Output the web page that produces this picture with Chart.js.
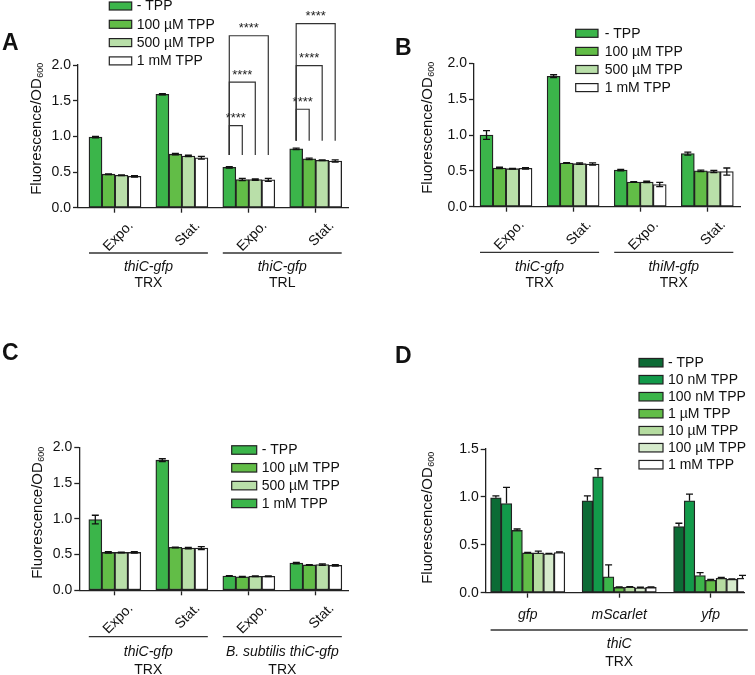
<!DOCTYPE html>
<html>
<head>
<meta charset="utf-8">
<script src="https://cdn.jsdelivr.net/npm/chart.js@4.4.0/dist/chart.umd.min.js"></script>
<style>
  body { margin: 0; background: #fff; }
  #fig { position: relative; width: 755px; height: 675px; }
  canvas { position: absolute; }
</style>
</head>
<body>
<div id="fig">
  <canvas id="panelA" width="378" height="340" style="left:0;top:0"></canvas>
  <canvas id="panelB" width="377" height="340" style="left:378px;top:0"></canvas>
  <canvas id="panelC" width="378" height="335" style="left:0;top:340px"></canvas>
  <canvas id="panelD" width="377" height="335" style="left:378px;top:340px"></canvas>
</div>
<script>
// ---- data ----
const tppLevels = ['- TPP', '100 µM TPP', '500 µM TPP', '1 mM TPP'];
const phases = ['Expo.', 'Stat.', 'Expo.', 'Stat.'];

// rows = TPP level, columns = phase
const valuesA = [
  [0.99, 1.59, 0.565, 0.825],
  [0.47, 0.75, 0.395, 0.685],
  [0.455, 0.725, 0.395, 0.665],
  [0.44, 0.70, 0.39, 0.655]
];
const errorsA = [
  [0.01, 0.01, 0.01, 0.01],
  [0.005, 0.01, 0.015, 0.01],
  [0.005, 0.01, 0.01, 0.005],
  [0.01, 0.02, 0.02, 0.015]
];
// [phase, from level, to level, bottom, top]
const bracketsA = [
  [2, 0, 1, 0.74, 1.15], [2, 0, 2, 0.74, 1.76], [2, 0, 3, 0.74, 2.41],
  [3, 0, 1, 0.94, 1.38], [3, 0, 2, 0.94, 1.99], [3, 0, 3, 0.94, 2.58]
];
const strainsA = [
  { cats: [0, 1], name: 'thiC-gfp', host: 'TRX' },
  { cats: [2, 3], name: 'thiC-gfp', host: 'TRL' }
];

const valuesB = [
  [1.00, 1.82, 0.51, 0.74],
  [0.54, 0.61, 0.345, 0.50],
  [0.53, 0.60, 0.345, 0.49],
  [0.535, 0.595, 0.31, 0.49]
];
const errorsB = [
  [0.06, 0.02, 0.01, 0.02],
  [0.01, 0.005, 0.005, 0.01],
  [0.005, 0.01, 0.01, 0.015],
  [0.01, 0.015, 0.03, 0.05]
];
const strainsB = [
  { cats: [0, 1], name: 'thiC-gfp', host: 'TRX' },
  { cats: [2, 3], name: 'thiM-gfp', host: 'TRX' }
];

const valuesC = [
  [0.99, 1.82, 0.20, 0.38],
  [0.53, 0.60, 0.19, 0.355],
  [0.53, 0.59, 0.195, 0.36],
  [0.53, 0.59, 0.195, 0.35]
];
const errorsC = [
  [0.06, 0.02, 0.005, 0.01],
  [0.01, 0.005, 0.005, 0.005],
  [0.005, 0.01, 0.005, 0.01],
  [0.01, 0.02, 0.005, 0.01]
];
const strainsC = [
  { cats: [0, 1], name: 'thiC-gfp', host: 'TRX' },
  { cats: [2, 3], name: 'B. subtilis thiC-gfp', host: 'TRX' }
];

const tppLevelsD = ['- TPP', '10 nM TPP', '100 nM TPP', '1 µM TPP', '10 µM TPP', '100 µM TPP', '1 mM TPP'];
const reporters = ['gfp', 'mScarlet', 'yfp'];
const valuesD = [
  [0.99, 0.96, 0.69],
  [0.93, 1.21, 0.96],
  [0.65, 0.165, 0.18],
  [0.415, 0.055, 0.13],
  [0.415, 0.058, 0.15],
  [0.405, 0.052, 0.14],
  [0.42, 0.055, 0.15]
];
const errorsD = [
  [0.02, 0.05, 0.035],
  [0.17, 0.085, 0.07],
  [0.015, 0.125, 0.03],
  [0.005, 0.005, 0.01],
  [0.02, 0.005, 0.01],
  [0.005, 0.005, 0.005],
  [0.005, 0.005, 0.03]
];
const strainsD = [{ cats: [0, 2], name: 'thiC', host: 'TRX' }];

// ---- styling ----
const FONT = '"Liberation Sans", Arial, sans-serif';
const INK = '#222';
const greens4 = ['#3bb54a', '#62bd47', '#b9dfa9', '#ffffff'];
const greens7 = ['#0c6b35', '#129a4a', '#3cb54a', '#62bd47', '#b5dca0', '#d6ebcc', '#ffffff'];

function drawExtras(chart, p) {
  const ctx = chart.ctx;
  const y = chart.scales.y;
  const metas = p.series.map((_, i) => chart.getDatasetMeta(i).data);
  ctx.save();
  ctx.strokeStyle = '#111';
  ctx.lineWidth = 1.3;

  // error bars
  p.errors.forEach((row, i) => row.forEach((e, j) => {
    const bar = metas[i][j];
    const v = p.values[i][j];
    const top = y.getPixelForValue(v + e);
    const bot = y.getPixelForValue(p.oneSided ? v : v - e);
    ctx.beginPath();
    ctx.moveTo(bar.x, top); ctx.lineTo(bar.x, bot);
    ctx.moveTo(bar.x - 3.5, top); ctx.lineTo(bar.x + 3.5, top);
    if (!p.oneSided) { ctx.moveTo(bar.x - 3.5, bot); ctx.lineTo(bar.x + 3.5, bot); }
    ctx.stroke();
  }));

  // significance brackets
  ctx.strokeStyle = '#333';
  ctx.lineWidth = 1.2;
  (p.brackets || []).forEach(([c, a, b, lo, hi]) => {
    const x0 = metas[a][c].x, x1 = metas[b][c].x;
    const yl = y.getPixelForValue(lo), yh = y.getPixelForValue(hi);
    ctx.beginPath();
    ctx.moveTo(x0, yl); ctx.lineTo(x0, yh); ctx.lineTo(x1, yh); ctx.lineTo(x1, yl);
    ctx.stroke();
    ctx.fillStyle = '#222';
    ctx.font = '13px ' + FONT;
    ctx.textAlign = 'center';
    ctx.textBaseline = 'middle';
    ctx.fillText('****', (x0 + x1) / 2, yh - 7);
  });

  // legend
  const lg = p.legend;
  ctx.lineWidth = 1.2;
  ctx.strokeStyle = INK;
  p.series.forEach((name, i) => {
    const cy = lg.y0 + i * lg.dy;
    ctx.fillStyle = (p.legendColors || p.colors)[i];
    ctx.fillRect(lg.boxX, cy - lg.boxH / 2, lg.boxW, lg.boxH);
    ctx.strokeRect(lg.boxX, cy - lg.boxH / 2, lg.boxW, lg.boxH);
    ctx.fillStyle = '#111';
    ctx.font = '14px ' + FONT;
    ctx.textAlign = 'left';
    ctx.textBaseline = 'middle';
    ctx.fillText(name, lg.textX, cy + 0.5);
  });

  // strain underline and names
  const last = metas.length - 1;
  p.strains.forEach(s => {
    const b0 = metas[0][s.cats[0]], b1 = metas[last][s.cats[1]];
    const x0 = b0.x - b0.width / 2, x1 = b1.x + b1.width / 2;
    ctx.strokeStyle = '#333';
    ctx.lineWidth = 1.3;
    ctx.beginPath();
    ctx.moveTo(x0, p.strainY.line); ctx.lineTo(x1, p.strainY.line);
    ctx.stroke();
    ctx.fillStyle = '#111';
    ctx.textAlign = 'center';
    ctx.textBaseline = 'middle';
    ctx.font = 'italic 14px ' + FONT;
    ctx.fillText(s.name, (x0 + x1) / 2, p.strainY.name);
    ctx.font = '14px ' + FONT;
    ctx.fillText(s.host, (x0 + x1) / 2, p.strainY.host);
  });

  // y-axis title with subscript
  ctx.translate(p.yTitle.x, p.yTitle.y);
  ctx.rotate(-Math.PI / 2);
  const main = 'Fluorescence/OD', sub = '600';
  ctx.font = '15px ' + FONT;
  const wMain = ctx.measureText(main).width;
  ctx.font = '9px ' + FONT;
  const wSub = ctx.measureText(sub).width;
  const start = -(wMain + wSub) / 2;
  ctx.textAlign = 'left';
  ctx.textBaseline = 'middle';
  ctx.fillStyle = '#111';
  ctx.font = '15px ' + FONT;
  ctx.fillText(main, start, 0);
  ctx.font = '9px ' + FONT;
  ctx.fillText(sub, start + wMain + 0.5, 4);
  ctx.setTransform(1, 0, 0, 1, 0, 0);

  // panel letter
  ctx.font = 'bold 23px ' + FONT;
  ctx.fillStyle = '#111';
  ctx.textAlign = 'left';
  ctx.textBaseline = 'alphabetic';
  ctx.fillText(p.letter.text, p.letter.x, p.letter.y);
  ctx.restore();
}

function makePanel(id, p) {
  const datasets = p.series.map((name, i) => ({
    label: name,
    data: p.values[i],
    backgroundColor: p.colors[i],
    borderColor: INK,
    borderWidth: 1.3,
    borderSkipped: false,
    barThickness: p.barW
  }));
  new Chart(document.getElementById(id), {
    type: 'bar',
    data: { labels: p.cats.map((_, i) => i), datasets },
    options: {
      responsive: false,
      animation: false,
      events: [],
      layout: { padding: { left: 0, top: p.area.top, right: p.area.right, bottom: 0 } },
      plugins: { legend: { display: false }, tooltip: { enabled: false } },
      scales: {
        x: {
          type: 'linear', min: p.xMin, max: p.xMax, offset: false,
          afterBuildTicks: s => { s.ticks = p.cats.map((_, i) => ({ value: i })); },
          afterFit: s => { s.height = p.area.xH; s.paddingLeft = 0; s.paddingRight = 0; },
          grid: { drawOnChartArea: false, offset: false, tickLength: 5, color: INK, tickColor: INK, tickWidth: 1.3 },
          border: { color: INK, width: 1.3 },
          ticks: {
            autoSkip: false,
            minRotation: p.rot, maxRotation: p.rot,
            labelOffset: p.labelOffset, padding: p.tickPad,
            color: '#111', font: { family: FONT, size: 14, style: p.rot ? 'normal' : 'italic' },
            callback: v => (p.cats[v] !== undefined ? p.cats[v] : '')
          }
        },
        y: {
          min: 0, max: p.yMax,
          afterFit: s => { s.width = p.area.left; s.paddingTop = 0; s.paddingBottom = 0; },
          grid: { drawOnChartArea: false, tickLength: 5, color: INK, tickColor: INK, tickWidth: 1.3 },
          border: { color: INK, width: 1.3 },
          ticks: {
            stepSize: 0.5, padding: 2, color: '#111',
            font: { family: FONT, size: 14 },
            callback: v => v.toFixed(1)
          }
        }
      }
    },
    plugins: [{ id: 'extras', afterDraw: chart => drawExtras(chart, p) }]
  });
}

makePanel('panelA', {
  cats: phases, series: tppLevels, values: valuesA, errors: errorsA, colors: greens4,
  brackets: bracketsA, strains: strainsA, yMax: 2,
  area: { left: 78, right: 30, top: 65, xH: 132.3 }, xMin: -0.553, xMax: 3.483,
  barW: 13, rot: 45, labelOffset: 16, tickPad: 5,
  legend: { boxX: 109.3, boxW: 22.4, boxH: 8, y0: 6, dy: 18.3, textX: 136.7 },
  strainY: { line: 253, name: 267, host: 283 },
  yTitle: { x: 37, y: 129 }, letter: { text: 'A', x: 2, y: 50 }
});

makePanel('panelB', {
  cats: phases, series: tppLevels, values: valuesB, errors: errorsB, colors: greens4,
  strains: strainsB, yMax: 2,
  area: { left: 96, right: 15, top: 63.3, xH: 133.3 }, xMin: -0.477, xMax: 3.487,
  barW: 13, rot: 45, labelOffset: 16, tickPad: 5,
  legend: { boxX: 197.7, boxW: 22.3, boxH: 8, y0: 33.3, dy: 18.1, textX: 226.7 },
  strainY: { line: 252.3, name: 266.7, host: 283 },
  yTitle: { x: 50, y: 128 }, letter: { text: 'B', x: 17, y: 55 }
});

makePanel('panelC', {
  cats: phases, series: tppLevels, values: valuesC, errors: errorsC, colors: greens4,
  legendColors: ['#3bb54a', '#62bd47', '#b9dfa9', '#3bb54a'],
  strains: strainsC, yMax: 2,
  area: { left: 79.3, right: 30, top: 107.3, xH: 84.7 }, xMin: -0.53, xMax: 3.48,
  barW: 13, rot: 45, labelOffset: 16, tickPad: 5,
  legend: { boxX: 231.7, boxW: 25, boxH: 8.5, y0: 110, dy: 17.8, textX: 261.7 },
  strainY: { line: 296.7, name: 311.7, host: 330 },
  yTitle: { x: 38, y: 173 }, letter: { text: 'C', x: 2, y: 20 }
});

makePanel('panelD', {
  cats: reporters, series: tppLevelsD, values: valuesD, errors: errorsD, colors: greens7,
  strains: strainsD, yMax: 1.5, oneSided: true,
  area: { left: 107.7, right: 11, top: 109, xH: 82.3 }, xMin: -0.459, xMax: 2.364,
  barW: 10.6, rot: 0, labelOffset: 0, tickPad: 9,
  legend: { boxX: 261, boxW: 24, boxH: 8.5, y0: 22.7, dy: 17, textX: 290 },
  strainY: { line: 290, name: 304, host: 321.7 },
  yTitle: { x: 50, y: 178 }, letter: { text: 'D', x: 17, y: 23 }
});
</script>
</body>
</html>
